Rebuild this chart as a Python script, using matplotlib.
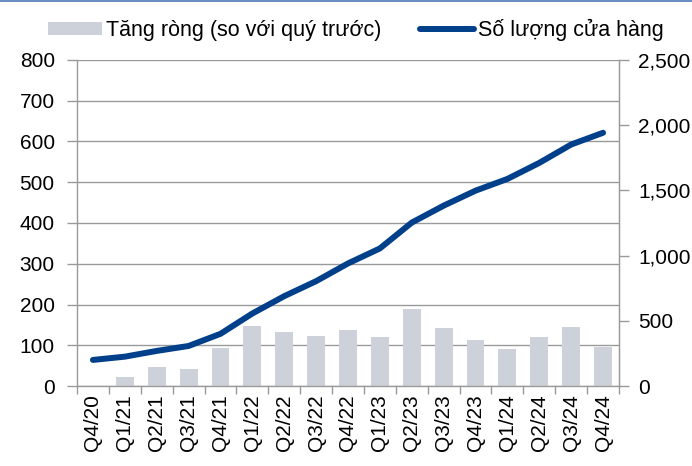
import matplotlib
matplotlib.use("Agg")
import matplotlib.pyplot as plt
from matplotlib.patches import Patch, Rectangle
from matplotlib.lines import Line2D
from matplotlib.ticker import FuncFormatter, MultipleLocator, FixedLocator

plt.rcParams['font.family'] = ['Liberation Sans', 'DejaVu Sans']

quarters = ["Q4/20", "Q1/21", "Q2/21", "Q3/21", "Q4/21", "Q1/22", "Q2/22", "Q3/22",
            "Q4/22", "Q1/23", "Q2/23", "Q3/23", "Q4/23", "Q1/24", "Q2/24", "Q3/24", "Q4/24"]
net_adds = [0, 21, 46, 41, 93, 147, 132, 122, 137, 120, 189, 142, 112, 90, 120, 144, 95]
store_count = [200, 225, 269, 307, 400, 556, 689, 804, 940, 1055, 1253, 1383, 1498,
               1588, 1711, 1852, 1942]

label_bar = "Tăng ròng (so với quý trước)"
label_line = "Số lượng cửa hàng"

BAR_C = "#cdd2da"
LINE_C = "#00408a"
GRID_C = "#9a9a9a"
FS_LEG = 15.5
FS = 15

fig = plt.figure(figsize=(6.92, 4.66), dpi=100)
ax = fig.add_axes([77/692, 1-386/466, (619-77)/692, (386-60)/466])
x = list(range(len(quarters)))

ax.bar(x, net_adds, width=0.56, color=BAR_C, zorder=2)
ax.set_xlim(-0.5, len(quarters) - 0.5)
ax.set_ylim(0, 800)
ax.yaxis.set_major_locator(MultipleLocator(100))
ax.grid(axis='y', color=GRID_C, linewidth=1.0)
ax.set_axisbelow(True)

ax.set_xticks(x)
ax.set_xticklabels(quarters, rotation=90, fontsize=FS)
ax.tick_params(axis='x', which='major', length=0, pad=6)
ax.xaxis.set_minor_locator(FixedLocator([i - 0.5 for i in range(len(quarters) + 1)]))
ax.tick_params(axis='x', which='minor', length=6, color=GRID_C, width=1)
ax.tick_params(axis='y', labelsize=FS, length=7, color=GRID_C, width=1, pad=9)

ax.spines['top'].set_visible(False)
for s in ['left', 'right', 'bottom']:
    ax.spines[s].set_color(GRID_C)
    ax.spines[s].set_linewidth(1)

ax2 = ax.twinx()
ax2.plot(x, store_count, color=LINE_C, linewidth=4.3, solid_capstyle='round',
         solid_joinstyle='round', zorder=3)
ax2.set_ylim(0, 2500)
ax2.yaxis.set_major_locator(MultipleLocator(500))
ax2.yaxis.set_major_formatter(FuncFormatter(lambda v, p: f"{int(v):,}"))
ax2.tick_params(axis='y', labelsize=FS, length=7, color=GRID_C, width=1, pad=7)
for s in ['top', 'left', 'bottom']:
    ax2.spines[s].set_visible(False)
ax2.spines['right'].set_color(GRID_C)

handles = [Patch(facecolor=BAR_C, edgecolor='none'),
           Line2D([0], [0], color=LINE_C, linewidth=4.3, solid_capstyle='round')]
fig.legend(handles, [label_bar, label_line], loc='center', bbox_to_anchor=(356/692, 1-30/466),
           ncol=2, frameon=False, fontsize=FS_LEG, handlelength=2.5, handleheight=0.55,
           handletextpad=0.2, columnspacing=1.8)

fig.add_artist(Rectangle((0, 1 - 2/466), 1, 2/466, transform=fig.transFigure,
                         facecolor="#6b8fc2", edgecolor='none'))

fig.savefig("out.png", dpi=100)
